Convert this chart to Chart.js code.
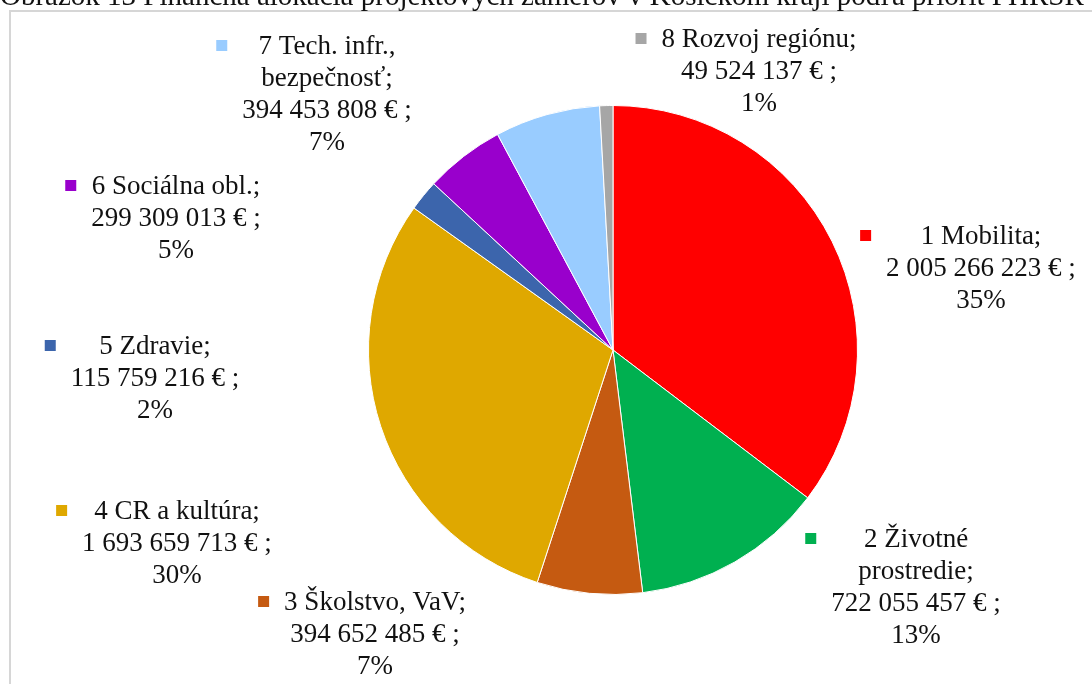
<!DOCTYPE html>
<html>
<head>
<meta charset="utf-8">
<script src="https://cdn.jsdelivr.net/npm/chart.js@4/dist/chart.umd.min.js"></script>
<style>
    html, body { margin: 0; padding: 0; background: #fff; overflow: hidden; }
    #frame {
        position: absolute; left: 9px; top: 10px; width: 1200px; height: 800px;
        border: 2px solid #d6d6d6; box-sizing: border-box;
    }
    #pie { position: absolute; left: 0; top: 0; }
</style>
</head>
<body>
<div id="frame"></div>
<canvas id="pie" width="1092" height="684"></canvas>
<script>
(function() {
    'use strict';

    // Údaje z obrázka
    var categories = [
        ['1 Mobilita'],
        ['2 Životné', 'prostredie'],
        ['3 Školstvo, VaV'],
        ['4 CR a kultúra'],
        ['5 Zdravie'],
        ['6 Sociálna obl.'],
        ['7 Tech. infr.,', 'bezpečnosť'],
        ['8 Rozvoj regiónu']
    ];
    var amounts = [2005266223, 722055457, 394652485, 1693659713, 115759216, 299309013, 394453808, 49524137];
    var colors = ['#ff0000', '#00b050', '#c55a11', '#dfa800', '#3c65ac', '#9900cc', '#99ccff', '#a6a6a6'];
    var title = 'Obrázok 13 Finančná alokácia projektových zámerov v Košickom kraji podľa priorít PHRSR';

    // poloha popisov voči stredu koláča (stred textu, prvý riadok)
    var labelOffsets = [
        [368, -113], [303, 190], [-238, 253], [-436, 162],
        [-458, -3], [-437, -163], [-286, -303], [146, -310]
    ];

    var FONT = '27px "Liberation Serif", "Times New Roman", serif';
    var LINE_H = 32;

    function formatEuro(v) {
        return String(v).replace(/\B(?=(\d{3})+(?!\d))/g, ' ') + ' € ;';
    }

    var total = 0;
    for (var i = 0; i < amounts.length; i++) total += amounts[i];

    var labelPlugin = {
        id: 'pieLabels',
        afterDatasetsDraw: function(chart) {
            var ctx = chart.ctx;
            var meta = chart.getDatasetMeta(0);
            var cx = meta.data[0].x, cy = meta.data[0].y;

            ctx.save();
            ctx.font = FONT;
            ctx.fillStyle = '#111';
            ctx.textBaseline = 'middle';
            ctx.textAlign = 'center';

            for (var i = 0; i < amounts.length; i++) {
                var lines = categories[i].slice();
                lines[lines.length - 1] += ';';
                lines.push(formatEuro(amounts[i]));
                lines.push(Math.round(amounts[i] / total * 100) + '%');

                var x = cx + labelOffsets[i][0];
                var y = cy + labelOffsets[i][1];
                var w = 0;
                for (var j = 0; j < lines.length; j++) {
                    w = Math.max(w, ctx.measureText(lines[j]).width);
                    ctx.fillText(lines[j], x, y + j * LINE_H);
                }
                // farebný štvorček legendy
                ctx.fillStyle = colors[i];
                ctx.fillRect(x - w / 2 - 26, y - 7, 11, 11);
                ctx.fillStyle = '#111';
            }

            // orezaný nadpis nad rámom
            ctx.font = '29px "Liberation Serif", "Times New Roman", serif';
            ctx.textAlign = 'left';
            ctx.textBaseline = 'alphabetic';
            ctx.fillText(title, 0, 5);
            ctx.restore();
        }
    };

    new Chart(document.getElementById('pie').getContext('2d'), {
        type: 'pie',
        data: {
            labels: categories,
            datasets: [{
                data: amounts,
                backgroundColor: colors,
                borderColor: '#ffffff',
                borderWidth: 1
            }]
        },
        options: {
            responsive: false,
            animation: false,
            layout: {
                padding: { left: 368, right: 234, top: 105, bottom: 89 }
            },
            plugins: {
                legend: { display: false },
                tooltip: { enabled: false }
            }
        },
        plugins: [labelPlugin]
    });
})();
</script>
</body>
</html>
